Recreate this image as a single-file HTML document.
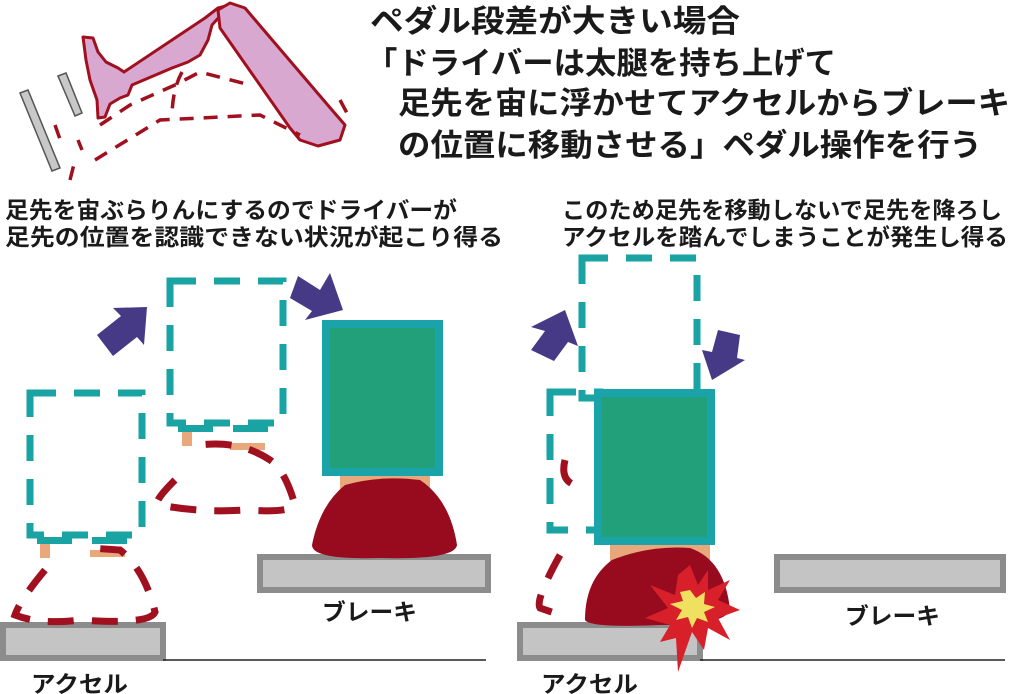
<!DOCTYPE html>
<html><head><meta charset="utf-8"><style>
html,body{margin:0;padding:0;background:#fff;}
svg{display:block}
text{font-family:"Liberation Sans","Noto Sans CJK JP",sans-serif;font-weight:bold;fill:#1a1a1a}
</style></head><body>
<svg width="1030" height="694" viewBox="0 0 1030 694" xmlns="http://www.w3.org/2000/svg">
<!-- leg illustration -->
<g stroke="#a0101e" stroke-width="3" fill="#d8a8d0" stroke-linejoin="round">
<path d="M83 37 L93 38 L98 52 L106 62 L118 68 L124 72 L205 18 L218 8 L230 5 L212 25 L208 40 L200 55 L188 62 L172 68 L132 85 L128 95 L120 98 L110 104 L105 117 L98 118 L97 100 L90 80 L86 60 Z"/>
<path d="M218 10 L230 3 L245 8 L262 28 L332 110 L345 125 L340 140 L318 146 L300 140 L290 128 L220 28 Z"/>
</g>
<g stroke="#a0101e" stroke-width="3.5" fill="none" stroke-dasharray="14 10">
<path d="M100 125 L130 105 L175 85 L200 72 L250 85"/>
<path d="M95 160 L160 120 L260 115 L300 135"/>
<path d="M78 140 L82 150 M55 125 L62 145 M70 180 L75 160"/>
<path d="M182 72 Q172 90 172 118 M340 100 L348 115"/>
</g>
<g fill="#c8c8c8" stroke="#555" stroke-width="1.5">
<polygon points="20,93 28,90 60,168 52,171"/>
<polygon points="58,76 66,73 82,113 75,116"/>
</g>
<!-- title -->
<g font-size="31">
<text x="370" y="32" textLength="370" lengthAdjust="spacingAndGlyphs">ペダル段差が大きい場合</text>
<text x="366" y="74" textLength="470" lengthAdjust="spacingAndGlyphs">「ドライバーは太腿を持ち上げて</text>
<text x="398" y="114" textLength="612" lengthAdjust="spacingAndGlyphs">足先を宙に浮かせてアクセルからブレーキ</text>
<text x="398" y="156" textLength="584" lengthAdjust="spacingAndGlyphs">の位置に移動させる」ペダル操作を行う</text>
</g>
<g font-size="23">
<text x="5" y="218" textLength="452" lengthAdjust="spacingAndGlyphs">足先を宙ぶらりんにするのでドライバーが</text>
<text x="5" y="245" textLength="498" lengthAdjust="spacingAndGlyphs">足先の位置を認識できない状況が起こり得る</text>
<text x="562" y="218" textLength="440" lengthAdjust="spacingAndGlyphs">このため足先を移動しないで足先を降ろし</text>
<text x="562" y="245" textLength="446" lengthAdjust="spacingAndGlyphs">アクセルを踏んでしまうことが発生し得る</text>
</g>
<!-- pedals -->
<g fill="#c4c4c4" stroke="#8c8c8c" stroke-width="6">
<rect x="3" y="625" width="160" height="33"/>
<rect x="260" y="557" width="228" height="33"/>
<rect x="520" y="625" width="180" height="33"/>
<rect x="777" y="557" width="226" height="33"/>
</g>
<line x1="163" y1="660" x2="486" y2="660" stroke="#222" stroke-width="1.5"/>
<line x1="700" y1="660" x2="1005" y2="660" stroke="#222" stroke-width="1.5"/>
<g font-size="23">
<text x="31" y="692" textLength="97" lengthAdjust="spacingAndGlyphs">アクセル</text>
<text x="322" y="620" textLength="95" lengthAdjust="spacingAndGlyphs">ブレーキ</text>
<text x="541" y="692" textLength="97" lengthAdjust="spacingAndGlyphs">アクセル</text>
<text x="845" y="624" textLength="95" lengthAdjust="spacingAndGlyphs">ブレーキ</text>
</g>
<!-- dashed feet -->
<g stroke="#1aa3a3" stroke-width="7" fill="none" stroke-dasharray="26 18">
<rect x="30" y="393" width="112" height="142"/>
<rect x="170" y="281" width="113" height="142"/>
<rect x="582" y="258" width="115" height="140"/>
<rect x="550" y="392" width="50" height="138"/>
</g>
<g fill="#e8a87c">
<rect x="40" y="540" width="10" height="18"/><rect x="90" y="550" width="35" height="7"/>
<rect x="182" y="428" width="10" height="18"/><rect x="230" y="443" width="35" height="7"/>
<rect x="340" y="476" width="90" height="20"/>
<rect x="610" y="545" width="100" height="20"/>
</g>
<g fill="#1aa3a3">
<rect x="37" y="537" width="35" height="7"/><rect x="92" y="537" width="35" height="7"/>
<rect x="178" y="425" width="35" height="7"/><rect x="233" y="425" width="35" height="7"/>
</g>
<g stroke="#a0101e" stroke-width="7" fill="none" stroke-dasharray="26 18">
<path d="M45 570 Q20 600 15 615 Q40 625 80 620 Q150 625 155 612 Q145 570 120 550 L90 548"/>
<path d="M175 480 Q150 505 160 505 Q200 513 245 510 Q290 513 295 505 Q285 470 270 460 Q240 440 200 445"/>
<path d="M565 460 Q560 480 575 485 M560 555 Q535 600 540 608 Q560 615 560 615"/>
</g>
<!-- solid heels -->
<path d="M312 545 Q320 505 345 485 Q380 475 420 480 Q450 500 457 545 Q455 560 380 558 Q312 560 312 545 Z" fill="#980a1e"/>
<path d="M585 620 Q585 580 612 560 Q650 545 690 548 Q725 560 730 610 Q725 625 660 625 Q590 628 585 620 Z" fill="#980a1e"/>
<!-- green boxes -->
<rect x="326" y="324" width="113" height="148" fill="#22a07a" stroke="#1aa3a8" stroke-width="8"/>
<rect x="598" y="393" width="113" height="148" fill="#22a07a" stroke="#1aa3a8" stroke-width="8"/>
<!-- explosion -->
<polygon fill="#d8202a" points="690,565 698,585 708,570 708,590 730,580 718,600 740,610 718,618 730,640 708,628 704,650 692,632 678,672 676,638 660,642 670,625 645,618 668,608 650,585 675,595 678,575" />
<polygon fill="#f0e060" points="690,590 696,598 705,592 704,604 715,607 704,612 708,622 697,618 692,628 688,617 676,620 682,610 670,604 683,601 680,592"/>
<!-- arrows -->
<g fill="#463a86">
<polygon points="147,307 144,345 137,337 113,356 97,335 121,316 113,308"/>
<polygon points="330,273 343,310 305,320 312,311 290,298 298,276 320,290"/>
<polygon points="565,310 578,346 568,342 554,361 531,350 545,331 531,327"/>
<polygon points="712,380 745,360 737,358 740,335 718,330 712,352 702,350"/>
</g>
</svg>
</body></html>
